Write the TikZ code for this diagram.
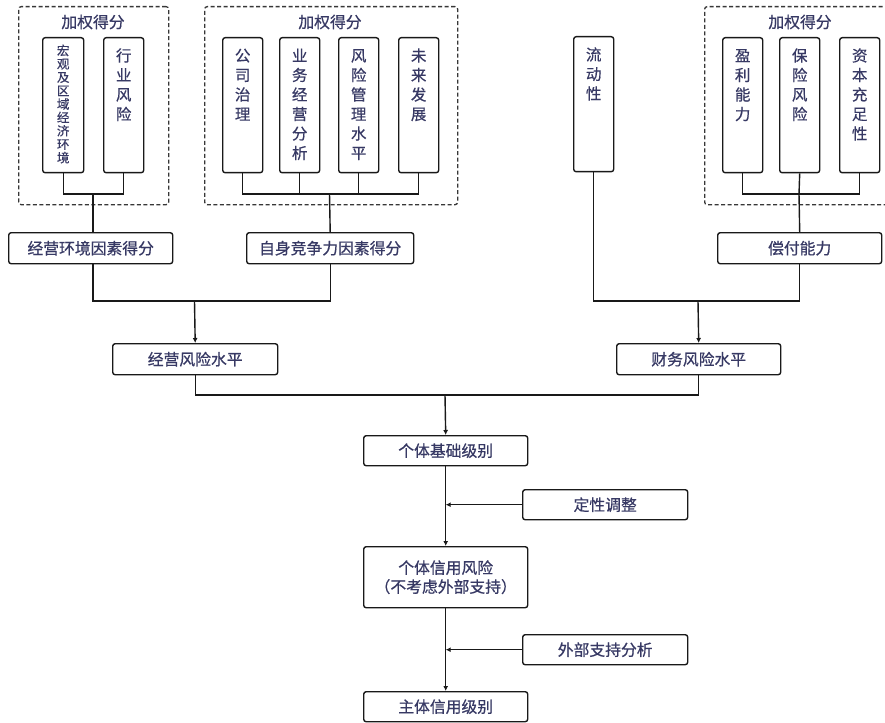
\documentclass[tikz,border=0pt]{standalone}
\usepackage{fontspec}
\setmainfont[FakeBold=0.6]{Noto Sans CJK SC}
\usetikzlibrary{arrows.meta}
\definecolor{txt}{RGB}{55,57,100}
\definecolor{ln}{RGB}{25,25,25}
\definecolor{frm}{RGB}{55,55,55}
\newcommand{\vcol}[1]{\parbox[t]{20pt}{\centering #1}}
\begin{document}
\begin{tikzpicture}[x=1pt,y=-1pt,
  box/.style={draw=ln, line width=1.4pt, rounded corners=2.5pt, fill=white,
    text=txt, inner sep=0pt, anchor=north west},
  hbox/.style={box, minimum height=31pt, font=\fontsize{15.8}{19}\selectfont},
  vbox/.style={box, minimum width=40pt, text height=23.7pt, text depth=111.3pt,
    font=\fontsize{15.5}{19.5}\selectfont},
  vboxs/.style={box, minimum width=41pt, text height=17.5pt, text depth=117.5pt,
    font=\fontsize{12.5}{13.4}\selectfont},
  frame/.style={draw=frm, line width=1.3pt, dash pattern=on 4pt off 2.5pt,
    rounded corners=2.5pt, anchor=north west, inner sep=0pt},
  grp/.style={text=txt, font=\fontsize{15.8}{19}\selectfont, inner sep=0pt},
  conn/.style={draw=ln, line width=1.4pt},
  arr/.style={conn, -{Latex[length=5pt,width=5pt]}}
]
\useasboundingbox[fill=white] (0,0) rectangle (885,722);

% dashed group frames
\node[frame, minimum width=150pt, minimum height=198pt] (g1) at (18,6) {};
\node[frame, minimum width=253pt, minimum height=198pt] (g2) at (204,6) {};
\node[frame, minimum width=200pt, minimum height=198pt] (g3) at (704,6) {};
\node[grp] (g1t) at (93,22) {加权得分};
\node[grp] (g2t) at (330,22) {加权得分};
\node[grp] (g3t) at (800,22) {加权得分};

% vertical factor boxes
\node[vboxs] (b1) at (42,37) {\vcol{宏\\观\\及\\区\\域\\经\\济\\环\\境}};
\node[vbox] (b2) at (103,37) {\vcol{行\\业\\风\\险}};
\node[vbox] (c1) at (222,37) {\vcol{公\\司\\治\\理}};
\node[vbox] (c2) at (279,37) {\vcol{业\\务\\经\\营\\分\\析}};
\node[vbox] (c3) at (338,37) {\vcol{风\\险\\管\\理\\水\\平}};
\node[vbox] (c4) at (398,37) {\vcol{未\\来\\发\\展}};
\node[vbox] (liq) at (573,36) {\vcol{流\\动\\性}};
\node[vbox] (d1) at (722,37) {\vcol{盈\\利\\能\\力}};
\node[vbox] (d2) at (779,37) {\vcol{保\\险\\风\\险}};
\node[vbox] (d3) at (839,37) {\vcol{资\\本\\充\\足\\性}};

% horizontal boxes
\node[hbox, minimum width=164pt] (env) at (8,232) {经营环境因素得分};
\node[hbox, minimum width=167pt] (comp) at (246,232) {自身竞争力因素得分};
\node[hbox, minimum width=164pt] (solv) at (717,232) {偿付能力};
\node[hbox, minimum width=165pt] (oprisk) at (112,343) {经营风险水平};
\node[hbox, minimum width=164pt] (finrisk) at (616,343) {财务风险水平};
\node[hbox, minimum width=164pt, minimum height=30pt] (base) at (363,435) {个体基础级别};
\node[hbox, minimum width=165pt, minimum height=30pt] (qual) at (522,489) {定性调整};
\node[hbox, minimum width=164pt, minimum height=61pt, align=center] (indiv) at (363,546) {个体信用风险\\（不考虑外部支持）};
\node[hbox, minimum width=165pt, minimum height=30pt] (ext) at (522,634) {外部支持分析};
\node[hbox, minimum width=164pt, minimum height=30pt] (final) at (363,691) {主体信用级别};

% junctions
\coordinate (j1) at (93,194);
\coordinate (j2) at (329.5,194);
\coordinate (j3) at (799,194);
\coordinate (j4) at (194.5,301);
\coordinate (j5) at (698,301);
\coordinate (j6) at (445,395);

% connectors
\draw[conn] (b1.south) |- (j1) -| (b2.south);
\draw[conn] (j1) -- (j1 |- env.north);
\draw[conn] (c1.south) |- (j2) -| (c4.south);
\draw[conn] (c2.south) -- (c2.south |- j2);
\draw[conn] (c3.south) -- (c3.south |- j2);
\draw[conn] (j2) -- (comp.north);
\draw[conn] (d1.south) |- (j3) -| (d3.south);
\draw[conn] (d2.south) -- (j3);
\draw[conn] (j3) -- (solv.north);

\draw[conn] (j1 |- env.south) |- (j4) -| (comp.south);
\draw[arr] (j4) -- (oprisk.north);
\draw[conn] (liq.south) |- (j5) -| (solv.south);
\draw[arr] (j5) -- (finrisk.north);

\draw[conn] (oprisk.south) |- (j6) -| (finrisk.south);
\draw[arr] (j6) -- (base.north);
\draw[arr] (base.south) -- (indiv.north);
\draw[arr] (qual.west) -- (qual.west -| base.south);
\draw[arr] (indiv.south) -- (final.north);
\draw[arr] (ext.west) -- (ext.west -| indiv.south);
\end{tikzpicture}
\end{document}
